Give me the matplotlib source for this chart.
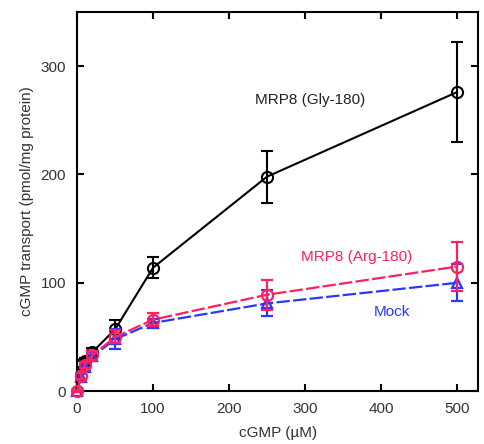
import matplotlib
matplotlib.use("Agg")
import matplotlib.pyplot as plt

plt.rcParams['font.family'] = ['Liberation Sans', 'DejaVu Sans']

conc = [0, 5, 10, 20, 50, 100, 250, 500]

gly_y = [0, 25, 28, 36, 57, 114, 198, 276]
gly_err = [1, 3, 3, 4, 9, 10, 24, 46]

arg_y = [0, 14, 24, 33, 50, 66, 89, 115]
arg_err = [1, 3, 3, 4, 6, 6, 14, 23]

mock_y = [0, 13, 22, 32, 48, 63, 81, 100]
mock_err = [1, 3, 3, 4, 9, 4, 12, 17]

labels = ["MRP8 (Gly-180)", "MRP8 (Arg-180)", "Mock"]

black = "#000000"
red = "#ff2060"
blue = "#2838ff"

fig = plt.figure(figsize=(4.85, 4.44), dpi=100)
ax = fig.add_axes([0.159, 0.119, 0.827, 0.854])

ax.errorbar(conc, mock_y, yerr=mock_err, color=blue, marker='^', ms=7,
            mfc='none', mew=1.6, lw=1.6, ls=(0, (6, 1.5)), capsize=4,
            elinewidth=1.6, capthick=1.6, zorder=2, clip_on=False)
ax.errorbar(conc, arg_y, yerr=arg_err, color=red, marker='o', ms=8,
            mfc='none', mew=1.6, lw=1.6, ls=(0, (6, 1.5)), capsize=4,
            elinewidth=1.6, capthick=1.6, zorder=3, clip_on=False)
ax.errorbar(conc, gly_y, yerr=gly_err, color=black, marker='o', ms=8,
            mfc='none', mew=1.5, lw=1.5, capsize=4,
            elinewidth=1.5, capthick=1.5, zorder=1)

ax.text(307, 269, labels[0], color='#222222', fontsize=11, ha='center', va='center')
ax.text(368, 124, labels[1], color=red, fontsize=11, ha='center', va='center')
ax.text(414, 73, labels[2], color=blue, fontsize=11, ha='center', va='center')

ax.set_xlim(0, 528)
ax.set_ylim(0, 350)
ax.set_xticks([0, 100, 200, 300, 400, 500])
ax.set_yticks([0, 100, 200, 300])
ax.tick_params(direction='in', top=True, right=True, length=5, width=1.5,
               labelsize=11, labelcolor='#333333', pad=8)
for s in ax.spines.values():
    s.set_linewidth(1.5)

ax.set_xlabel("cGMP (\u00b5M)", fontsize=11, color='#333333', labelpad=7)
ax.set_ylabel("cGMP transport (pmol/mg protein)", fontsize=11, color='#333333', labelpad=5)

fig.savefig("out.png", dpi=100)
